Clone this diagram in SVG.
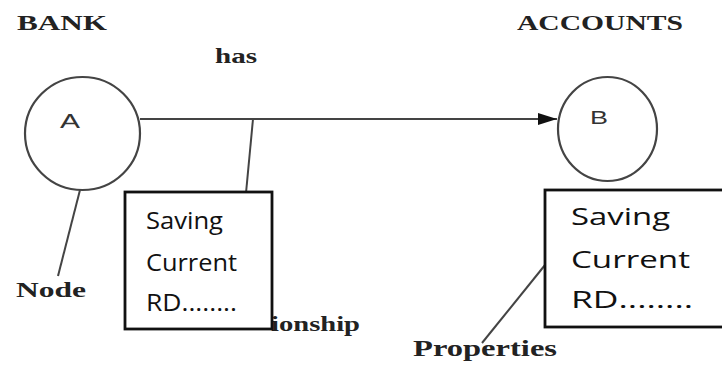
<svg xmlns="http://www.w3.org/2000/svg" width="722" height="365" viewBox="0 0 722 365">
<defs>
<style>
.lbl{font-family:"Liberation Serif","Times New Roman",serif;font-weight:bold;fill:#222;}
.node{fill:none;stroke:#444;stroke-width:2.2;}
.letter{font-family:"Liberation Sans",Arial,sans-serif;fill:#333;}
.box{fill:#fff;stroke:#111;stroke-width:2.8;}
.bt{font-family:"Open Sans","Liberation Sans",sans-serif;font-size:24px;fill:#111;}
.conn{stroke:#444;stroke-width:2;fill:none;}
</style>
<marker id="arr" markerWidth="10" markerHeight="8" refX="10" refY="4" orient="auto" markerUnits="userSpaceOnUse" viewBox="0 0 10 8">
<path d="M0,0 L10,4 L0,8 Z" fill="#111"/>
</marker>
<marker id="arrBig" markerWidth="19" markerHeight="12" refX="19" refY="6" orient="auto" markerUnits="userSpaceOnUse" viewBox="0 0 19 12">
<path d="M0,0 L19,6 L0,12 Z" fill="#111"/>
</marker>
</defs>
<rect width="722" height="365" fill="#fff"/>
<g id="labels">
<text class="lbl" x="17" y="30" font-size="22" textLength="90" lengthAdjust="spacingAndGlyphs" font-weight="normal">BANK</text>
<text class="lbl" x="517" y="30" font-size="22" textLength="166" lengthAdjust="spacingAndGlyphs">ACCOUNTS</text>
<text class="lbl" x="215" y="63" font-size="22" textLength="42" lengthAdjust="spacingAndGlyphs">has</text>
<text class="lbl" x="16" y="297" font-size="21" textLength="70" lengthAdjust="spacingAndGlyphs">Node</text>
<text class="lbl" x="271" y="331" font-size="21" textLength="89" lengthAdjust="spacingAndGlyphs">ionship</text>
<text class="lbl" x="413" y="356" font-size="23" textLength="144" lengthAdjust="spacingAndGlyphs">Properties</text>
</g>
<g id="connectors">
<line class="conn" x1="140" y1="119" x2="557" y2="119" stroke-width="2.6" stroke="#333" marker-end="url(#arrBig)"/>
<line class="conn" x1="253" y1="119" x2="246" y2="193"/>
<line class="conn" x1="80" y1="190" x2="58" y2="276"/>
<line class="conn" x1="545" y1="265" x2="482" y2="343"/>
</g>
<g id="nodeA">
<ellipse class="node" cx="82.5" cy="133.5" rx="57.5" ry="56.5"/>
<text class="letter" x="60" y="128" font-size="20" textLength="20" lengthAdjust="spacingAndGlyphs">A</text>
</g>
<g id="nodeB">
<ellipse class="node" cx="607.5" cy="129" rx="49.5" ry="52"/>
<text class="letter" x="590" y="124" font-size="19" textLength="18" lengthAdjust="spacingAndGlyphs">B</text>
</g>
<g id="box1">
<rect class="box" x="125" y="192" width="147" height="137"/>
<text class="bt" x="146" y="229" textLength="77" lengthAdjust="spacingAndGlyphs">Saving</text>
<text class="bt" x="146" y="271" textLength="91" lengthAdjust="spacingAndGlyphs">Current</text>
<text class="bt" x="146" y="311" textLength="91" lengthAdjust="spacingAndGlyphs">RD........</text>
</g>
<g id="box2">
<rect class="box" x="545" y="190" width="200" height="137" stroke-width="2.4" stroke="#222"/>
<text class="bt" x="571" y="225" textLength="99" lengthAdjust="spacingAndGlyphs" fill="#2a2a3a">Saving</text>
<text class="bt" x="571" y="268" textLength="119" lengthAdjust="spacingAndGlyphs" fill="#2a2a3a">Current</text>
<text class="bt" x="571" y="308" textLength="122" lengthAdjust="spacingAndGlyphs" fill="#2a2a3a">RD........</text>
</g>
</svg>
